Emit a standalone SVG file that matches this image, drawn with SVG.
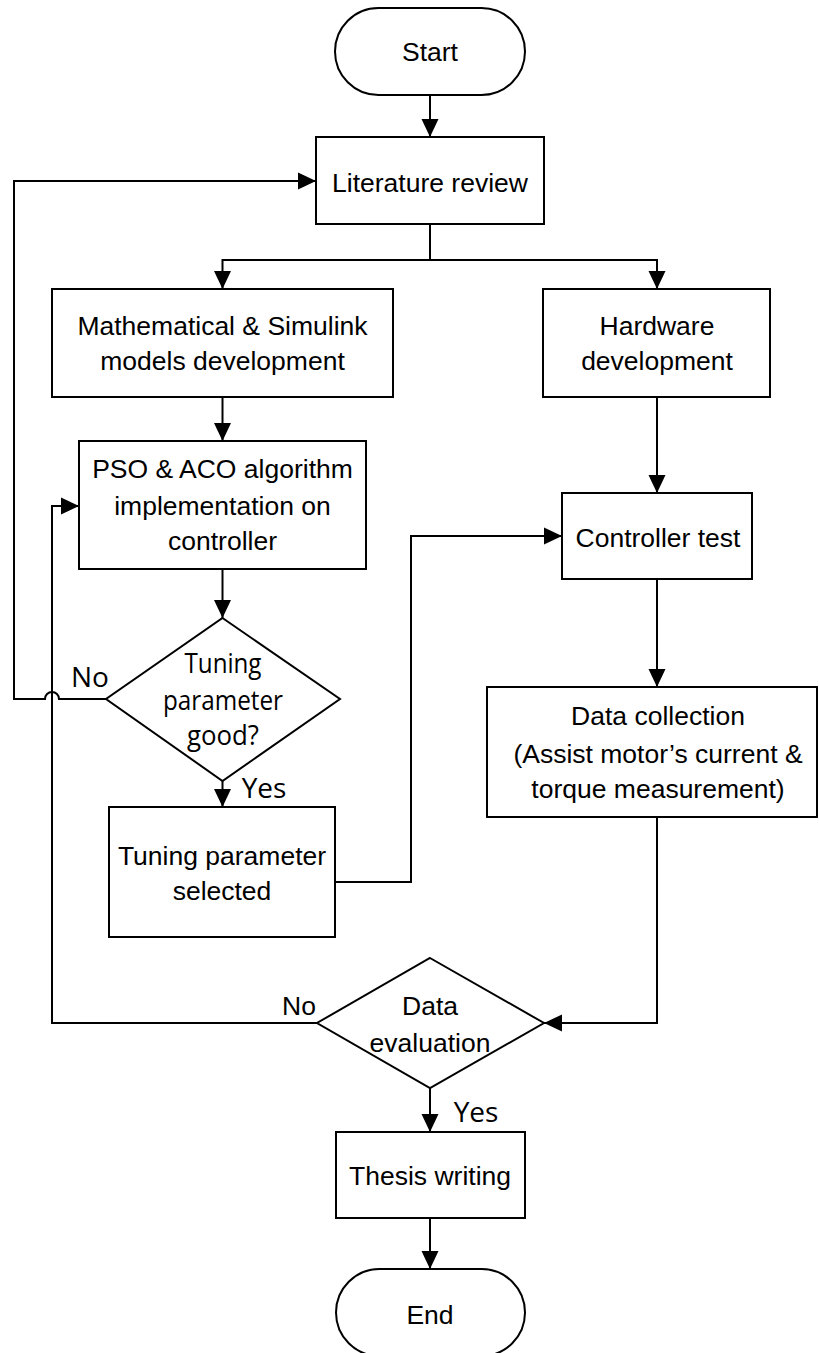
<svg xmlns="http://www.w3.org/2000/svg" width="819" height="1353" viewBox="0 0 819 1353">
<style>
.shape{fill:#fff;stroke:#000;stroke-width:2}
.conn{fill:none;stroke:#000;stroke-width:2}
.t{font-family:"Liberation Sans",Arial,sans-serif;font-size:26.5px;fill:#000;text-anchor:middle}
.o{font-family:"Open Sans","Noto Sans",sans-serif;font-size:28px;fill:#000;text-anchor:middle}
</style>
<defs>
<marker id="arr" markerUnits="userSpaceOnUse" markerWidth="18" markerHeight="18" refX="18" refY="9" orient="auto">
<path d="M0,0.5 L18,9 L0,17.5 z" fill="#000"/>
</marker>
</defs>
<rect width="819" height="1353" fill="#fff"/>
<g id="connectors">
<path class="conn" d="M430,95 V137" marker-end="url(#arr)"/>
<path class="conn" d="M430,224 V260 H222.5 V289" marker-end="url(#arr)"/>
<path class="conn" d="M430,260 H657 V289" marker-end="url(#arr)"/>
<path class="conn" d="M222.5,397 V441" marker-end="url(#arr)"/>
<path class="conn" d="M222.5,569 V618" marker-end="url(#arr)"/>
<path class="conn" d="M222.5,781 V807" marker-end="url(#arr)"/>
<path class="conn" d="M106,699 H59 A7,7 0 0 0 45,699 H14 V181 H316" marker-end="url(#arr)"/>
<path class="conn" d="M335,882 H411 V536 H562" marker-end="url(#arr)"/>
<path class="conn" d="M657,397 V493" marker-end="url(#arr)"/>
<path class="conn" d="M657,579 V687" marker-end="url(#arr)"/>
<path class="conn" d="M657,817 V1023 H544" marker-end="url(#arr)"/>
<path class="conn" d="M317,1023 H52 V506 H79" marker-end="url(#arr)"/>
<path class="conn" d="M430,1088 V1132" marker-end="url(#arr)"/>
<path class="conn" d="M430,1218 V1269" marker-end="url(#arr)"/>
<text class="o" x="90" y="687">No</text>
<text class="o" x="264" y="798">Yes</text>
<text class="t" x="299" y="1015">No</text>
<text class="o" x="476" y="1122">Yes</text>
</g>
<g id="start">
<rect class="shape" x="335" y="8" width="190" height="87" rx="43.5" ry="43.5"/>
<text class="t" x="430" y="61">Start</text>
</g>
<g id="literature">
<rect class="shape" x="316" y="137" width="228" height="87"/>
<text class="t" x="430" y="192">Literature review</text>
</g>
<g id="math">
<rect class="shape" x="52" y="289" width="341" height="108"/>
<text class="t" x="222.5" y="335">Mathematical &amp; Simulink</text>
<text class="t" x="222.5" y="370">models development</text>
</g>
<g id="hardware">
<rect class="shape" x="543" y="289" width="227" height="108"/>
<text class="t" x="657" y="335">Hardware</text>
<text class="t" x="657" y="370">development</text>
</g>
<g id="pso">
<rect class="shape" x="79" y="441" width="287" height="128"/>
<text class="t" x="222.5" y="478">PSO &amp; ACO algorithm</text>
<text class="t" x="222.5" y="515">implementation on</text>
<text class="t" x="222.5" y="550">controller</text>
</g>
<g id="tuning-decision">
<polygon class="shape" points="222.5,618 340,699 222.5,781 106,699"/>
<text class="o" x="223" y="673" textLength="77" lengthAdjust="spacingAndGlyphs">Tuning</text>
<text class="o" x="223" y="710" textLength="120" lengthAdjust="spacingAndGlyphs">parameter</text>
<text class="o" x="223" y="745" textLength="72" lengthAdjust="spacingAndGlyphs">good?</text>
</g>
<g id="tuning-selected">
<rect class="shape" x="109" y="807" width="226" height="130"/>
<text class="t" x="222" y="865">Tuning parameter</text>
<text class="t" x="222" y="900">selected</text>
</g>
<g id="controller">
<rect class="shape" x="562" y="493" width="190" height="86"/>
<text class="t" x="658" y="547">Controller test</text>
</g>
<g id="data-collection">
<rect class="shape" x="487" y="687" width="330" height="130"/>
<text class="t" x="658" y="725">Data collection</text>
<text class="t" x="658" y="763">(Assist motor’s current &amp;</text>
<text class="t" x="658" y="798">torque measurement)</text>
</g>
<g id="data-evaluation">
<polygon class="shape" points="430,958 544,1023 430,1088 317,1023"/>
<text class="t" x="430" y="1015">Data</text>
<text class="t" x="430" y="1052">evaluation</text>
</g>
<g id="thesis">
<rect class="shape" x="336" y="1132" width="189" height="86"/>
<text class="t" x="430" y="1185">Thesis writing</text>
</g>
<g id="end">
<rect class="shape" x="336" y="1269" width="189" height="87" rx="43.5" ry="43.5"/>
<text class="t" x="430" y="1324">End</text>
</g>
</svg>
